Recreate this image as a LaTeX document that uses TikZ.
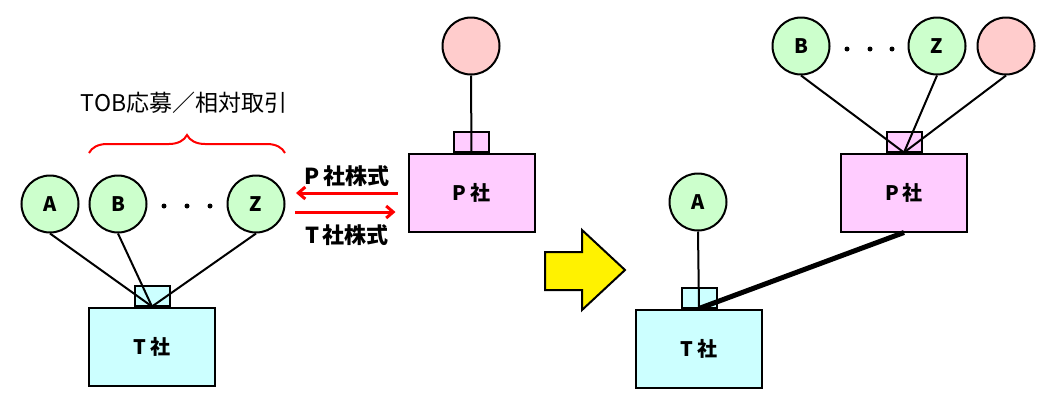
\documentclass[tikz,border=0pt]{standalone}
\usepackage{fontspec}
\setmainfont{Noto Sans CJK JP}
\usetikzlibrary{arrows.meta, decorations.pathreplacing}
\definecolor{holdgreen}{HTML}{CCFFCC}
\definecolor{holdpink}{HTML}{FFCCCC}
\definecolor{tcyan}{HTML}{CCFFFF}
\definecolor{pmagenta}{HTML}{FFCCFF}
\tikzset{every picture/.append style={x=1pt, y=-1pt}}
\tikzset{
    holder/.style={circle, draw, line width=2pt, minimum size=57pt,
    	inner sep=0pt, fill=holdgreen, font=\fontsize{20}{20}\selectfont\bfseries},
    pholder/.style={holder, fill=holdpink},
    company/.style={rectangle, draw, line width=2pt, minimum width=126pt,
    	minimum height=78pt, font=\fontsize{20}{20}\selectfont\bfseries},
    stub/.style={rectangle, draw, line width=2pt, minimum width=35pt,
    	minimum height=20pt, anchor=south},
    link/.style={line width=2pt},
    deal/.style={red, line width=3pt, -{Straight Barb[length=7pt,width=12pt]}},
    dealtxt/.style={font=\fontsize{22}{22}\selectfont\bfseries}
}

\begin{document}
\begin{tikzpicture}
  \useasboundingbox (0,0) rectangle (1041,397);

  % before: T with its holders, P with its own holder
  \node (tA) [holder] at (50, 204) {A};
  \node (tB) [holder] at (118, 204) {B};
  \node (tZ) [holder] at (256, 204) {Z};
  \foreach \x in {164,187,210} \fill (\x, 206) circle (2.5pt);
  \node (tco) [company, fill=tcyan] at (152, 346.5) {T\,社};
  \node (tstub) [stub, fill=tcyan] at (tco.north) {};
  \draw[link] (tA.south) -- (tstub.south);
  \draw[link] (tB.south) -- (tstub.south);
  \draw[link] (tZ.south) -- (tstub.south);

  \draw[red, line width=2pt, decorate,
    decoration={brace, amplitude=18pt}] (89, 153) -- (285, 153);
  \node (tob) [font=\fontsize{23}{23}\selectfont] at (184, 103)
    {TOB応募／相対取引};

  \node (pco) [company, fill=pmagenta] at (471.5, 192.5) {P\,社};
  \node (pstub) [stub, fill=pmagenta] at (pco.north) {};
  \node (pP) [pholder] at (471, 46) {};
  \draw[link] (pP.south) -- (pstub.south);

  % share exchange
  \coordinate (pl) at (pco.west |- 0, 193);
  \coordinate (pr) at (pco.west |- 0, 212);
  \draw[deal] ([xshift=-10pt]pl) -- (296, 193);
  \draw[deal] (295, 212) -- ([xshift=-12pt]pr);
  \node (ptxt) [dealtxt] at (347, 176) {P\,社株式};
  \node (ttxt) [dealtxt] at (347, 235) {T\,社株式};

  \draw[line width=2pt, fill=yellow] (545, 252) -- (582, 252) -- (582, 230)
    -- (625, 270) -- (582, 310) -- (582, 290) -- (545, 290) -- cycle;

  % after: P holds T, B..Z move up to P
  \node (rA) [holder] at (698, 202) {A};
  \node (rco) [company, fill=tcyan] at (699, 348.5) {T\,社};
  \node (rstub) [stub, fill=tcyan] at (rco.north) {};
  \draw[link] (rA.south) -- (rstub.south);

  \node (qco) [company, fill=pmagenta] at (904, 192.5) {P\,社};
  \node (qstub) [stub, fill=pmagenta] at (qco.north) {};
  \node (qB) [holder] at (801, 46) {B};
  \node (qZ) [holder] at (937, 46) {Z};
  \node (qP) [pholder] at (1006, 46) {};
  \foreach \x in {847,870,892} \fill (\x, 49) circle (2.5pt);
  \draw[link] (qB.south) -- (qstub.south);
  \draw[link] (qZ.south) -- (qstub.south);
  \draw[link] (qP.south) -- (qstub.south);

  \draw[line width=5pt] (qco.south) -- (rstub.south);

\end{tikzpicture}
\end{document}
